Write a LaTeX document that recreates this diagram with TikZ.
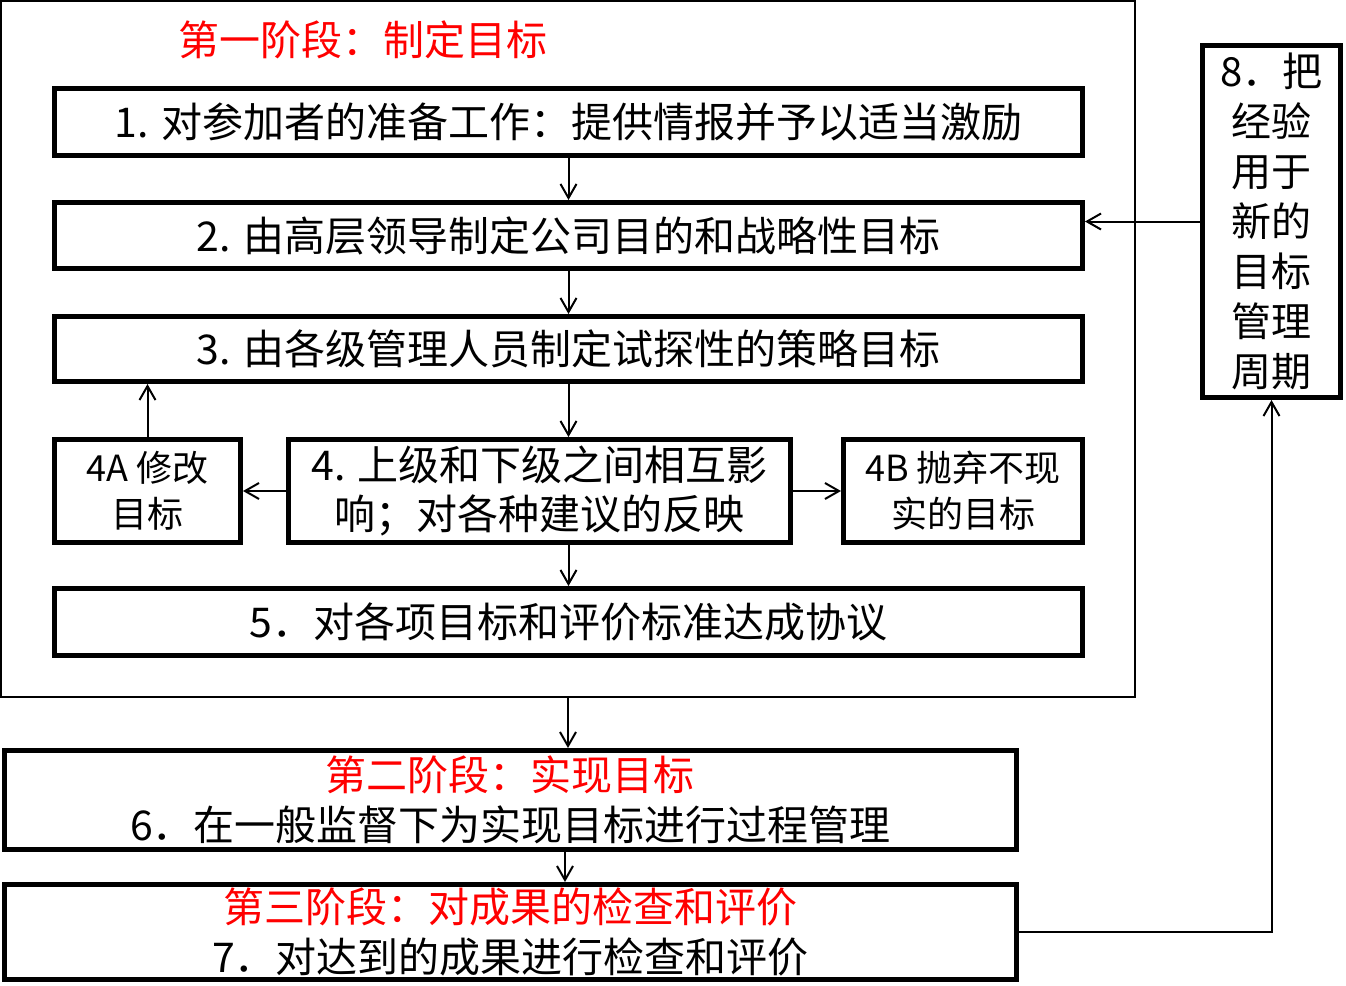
\documentclass[tikz,border=0pt]{standalone}
\usepackage{fontspec}
\setmainfont{Noto Sans CJK SC}
\usetikzlibrary{arrows.meta}
\begin{document}
\begin{tikzpicture}[x=0.5pt, y=-0.5pt,
  stepbox/.style={draw, line width=2.5pt, align=center, inner sep=0pt,
    font=\fontsize{20.5pt}{25pt}\selectfont},
  sidebox/.style={stepbox, font=\fontsize{18pt}{23pt}\selectfont},
  link/.style={-{Straight Barb[length=7pt,width=8pt]}, line width=1pt}]
\useasboundingbox (0,0) rectangle (1346,986);
% stage one frame
\node[draw, line width=1pt, inner sep=0pt, minimum width=567pt, minimum height=348pt] (stage1) at (568,349) {};
\node[text=red, font=\fontsize{20.5pt}{25pt}\selectfont] (title1) at (363,40) {第一阶段：制定目标};
\node[stepbox, minimum width=514pt, minimum height=33.5pt] (prep) at (568.5,122) {1. 对参加者的准备工作：提供情报并予以适当激励};
\node[stepbox, minimum width=514pt, minimum height=33pt] (topgoal) at (568.5,235.5) {2. 由高层领导制定公司目的和战略性目标};
\node[stepbox, minimum width=514pt, minimum height=32.5pt] (trial) at (568.5,349) {3. 由各级管理人员制定试探性的策略目标};
\node[stepbox, minimum width=251pt, minimum height=51.5pt, font=\fontsize{20.5pt}{24.5pt}\selectfont] (interact) at (539.5,491) {4. 上级和下级之间相互影\\响；对各种建议的反映};
\node[sidebox, minimum width=93pt, minimum height=51.5pt] (revise) at (147.5,491) {4A~修改\\目标};
\node[sidebox, minimum width=119.5pt, minimum height=51.5pt] (drop) at (963,491) {4B~抛弃不现\\实的目标};
\node[stepbox, minimum width=514pt, minimum height=33.5pt] (agree) at (568.5,622) {5．对各项目标和评价标准达成协议};
% stages two and three
\node[stepbox, minimum width=506pt, minimum height=49.5pt] (manage) at (510.5,800) {\textcolor{red}{第二阶段：实现目标}\\6．在一般监督下为实现目标进行过程管理};
\node[stepbox, minimum width=506pt, minimum height=47.5pt] (review) at (510.5,932) {\textcolor{red}{第三阶段：对成果的检查和评价}\\7．对达到的成果进行检查和评价};
\node[stepbox, minimum width=69pt, minimum height=176pt, font=\fontsize{20pt}{25pt}\selectfont] (reuse) at (1271.5,221.5) {8．把\\经验\\用于\\新的\\目标\\管理\\周期};
% connectors
\draw[link] (prep) -- (topgoal);
\draw[link] (topgoal) -- (trial);
\draw[link] (trial.south) -- (trial.south |- interact.north);
\draw[link] (interact.west) -- (revise.east);
\draw[link] (interact.east) -- (drop.west);
\draw[link] (revise.north) -- (revise.north |- trial.south);
\draw[link] (interact.south -| agree.north) -- (agree.north);
\draw[link] (stage1.south) -- (stage1.south |- manage.north);
\draw[link] (manage.south -| 565,0) -- (review.north -| 565,0);
\draw[link] (review.east) -| (reuse.south);
\draw[link] (reuse.west) -- (reuse.west -| topgoal.east);
\end{tikzpicture}
\end{document}
